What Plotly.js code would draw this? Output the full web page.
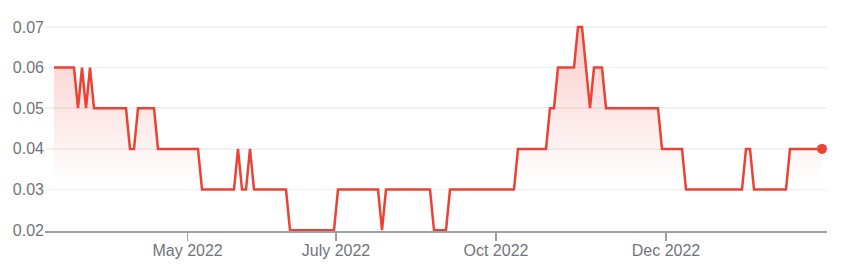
<!DOCTYPE html>
<html>
<head>
<meta charset="utf-8">
<script src="https://cdn.plot.ly/plotly-3.0.1.min.js"></script>
<style>
  html, body { margin: 0; padding: 0; background: #ffffff; }
  #chart { width: 842px; height: 267px; }
</style>
</head>
<body>
<div id="chart"></div>
<script>
// Trading-session index (each point is one trading session) and closing price at the
// sessions where the line changes direction.
const pointIndex = [0, 5, 6, 7, 8, 9, 10, 18, 19, 20, 21, 25, 26, 36, 37, 45, 46, 47, 48, 49, 50,
  58, 59, 70, 71, 81, 82, 83, 94, 95, 98, 99, 115, 116, 123, 124, 125, 126, 130, 131, 132, 133,
  134, 135, 137, 138, 151, 152, 157, 158, 172, 173, 174, 175, 183, 184, 192];
const price = [0.06, 0.06, 0.05, 0.06, 0.05, 0.06, 0.05, 0.05, 0.04, 0.04, 0.05, 0.05, 0.04, 0.04, 0.03,
  0.03, 0.04, 0.03, 0.03, 0.04, 0.03,
  0.03, 0.02, 0.02, 0.03, 0.03, 0.02, 0.03, 0.03, 0.02, 0.02, 0.03, 0.03, 0.04, 0.04, 0.05, 0.05, 0.06,
  0.06, 0.07, 0.07, 0.06,
  0.05, 0.06, 0.06, 0.05, 0.05, 0.04, 0.04, 0.03, 0.03, 0.04, 0.04, 0.03, 0.03, 0.04, 0.04];

// Month labels and the session index at which each month starts.
const tickIndex = [33.4, 70.5, 110.5, 153];
const tickLabels = ['May 2022', 'July 2022', 'Oct 2022', 'Dec 2022'];

const yTicks = [0.02, 0.03, 0.04, 0.05, 0.06, 0.07];

const RED = '#ea4335';
const lastX = pointIndex[pointIndex.length - 1];
const lastY = price[price.length - 1];

const traces = [
  {
    type: 'scatter',
    mode: 'lines',
    x: pointIndex,
    y: price,
    line: { color: RED, width: 2.5 },
    fill: 'tozeroy',
    fillgradient: {
      type: 'vertical',
      start: 0.0318,
      stop: 0.07,
      colorscale: [[0, 'rgba(234,67,53,0)'], [1, 'rgba(234,67,53,0.27)']]
    },
    hoverinfo: 'skip',
    showlegend: false
  },
  {
    type: 'scatter',
    mode: 'markers',
    x: [lastX],
    y: [lastY],
    marker: { color: RED, size: 10 },
    cliponaxis: false,
    hoverinfo: 'skip',
    showlegend: false
  }
];

const layout = {
  width: 842,
  height: 267,
  margin: { l: 45, r: 15, t: 17, b: 35.5 },
  paper_bgcolor: '#ffffff',
  plot_bgcolor: '#ffffff',
  font: { family: 'Arial, "Liberation Sans", sans-serif', size: 16, color: '#70757a' },
  showlegend: false,
  hovermode: false,
  xaxis: {
    type: 'linear',
    range: [-2.25, 193.25],
    tickmode: 'array',
    tickvals: tickIndex,
    ticktext: tickLabels,
    showgrid: false,
    zeroline: false,
    showline: true,
    linecolor: '#9aa0a6',
    linewidth: 2,
    ticks: 'outside',
    ticklen: 8,
    tickwidth: 1.2,
    tickcolor: '#9aa0a6',
    ticklabelstandoff: -4,
    tickfont: { size: 16, color: '#70757a' },
    fixedrange: true
  },
  yaxis: {
    range: [0.0198, 0.072445],
    tickmode: 'array',
    tickvals: yTicks,
    ticktext: yTicks.map(v => v.toFixed(2)),
    showgrid: true,
    gridcolor: '#f1f1f1',
    gridwidth: 1.5,
    zeroline: false,
    showline: false,
    ticks: '',
    tickfont: { size: 16, color: '#70757a' },
    fixedrange: true
  }
};

Plotly.newPlot('chart', traces, layout, { displayModeBar: false, staticPlot: true });
</script>
</body>
</html>
